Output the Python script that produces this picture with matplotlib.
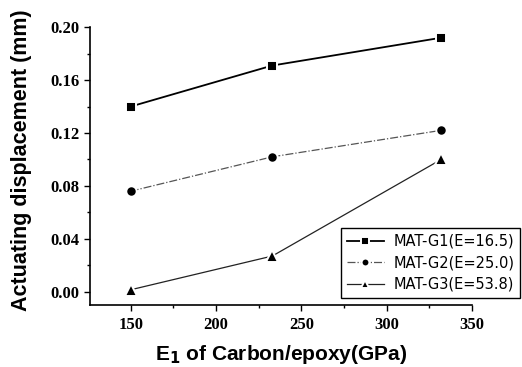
import numpy as np
import matplotlib
matplotlib.use('Agg')
import matplotlib.pyplot as plt
from matplotlib.ticker import MultipleLocator

# E1 of carbon/epoxy (GPa) and actuating displacement (mm)
e1 = [150, 233, 332]
g1 = [0.140, 0.171, 0.192]
g2 = [0.076, 0.102, 0.122]
g3 = [0.0015, 0.027, 0.100]
labels = ['MAT-G1(E=16.5)', 'MAT-G2(E=25.0)', 'MAT-G3(E=53.8)']

fig = plt.figure(figsize=(5.22, 3.67), dpi=100)
ax = fig.add_axes([0.172, 0.169, 0.732, 0.757])

# white marker edges give the small gap between line and marker
ax.plot(e1, g1, color='black', lw=1.3, marker='s', ms=7, mfc='black',
        mec='white', mew=1.4, label=labels[0])
ax.plot(e1, g2, color='#555555', lw=0.9, ls='-.', marker='o', ms=7.5,
        mfc='black', mec='white', mew=1.4, label=labels[1])
ax.plot(e1, g3, color='#222222', lw=0.9, marker='^', ms=8.5,
        mfc='black', mec='white', mew=1.4, label=labels[2])

ax.set_xlim(126, 350)
ax.set_ylim(-0.01, 0.20)
ax.set_xticks([150, 200, 250, 300, 350])
ax.set_yticks([0.00, 0.04, 0.08, 0.12, 0.16, 0.20])
ax.set_yticklabels(['0.00', '0.04', '0.08', '0.12', '0.16', '0.20'])
ax.xaxis.set_minor_locator(MultipleLocator(25))
ax.yaxis.set_minor_locator(MultipleLocator(0.02))
ax.tick_params(which='both', direction='out', width=1)
ax.tick_params(which='major', length=4)
ax.tick_params(which='minor', length=2)
ax.tick_params(axis='x', pad=5)
for lab in ax.get_xticklabels() + ax.get_yticklabels():
    lab.set_family('Liberation Serif')
    lab.set_weight('bold')
    lab.set_fontsize(12)

ax.spines['top'].set_visible(False)
ax.spines['right'].set_visible(False)
ax.spines['left'].set_bounds(-0.01, 0.20)
ax.spines['left'].set_linewidth(1.2)
ax.spines['bottom'].set_linewidth(1.2)

ax.set_xlabel('E$_\\mathbf{1}$ of Carbon/epoxy(GPa)', family='Liberation Sans',
              weight='bold', fontsize=15)
ax.set_ylabel('Actuating displacement (mm)', family='Liberation Sans',
              weight='bold', fontsize=15.5)
ax.xaxis.set_label_coords(0.5, -0.137)
ax.yaxis.set_label_coords(-0.152, 0.52)

leg = fig.legend(loc='lower right', bbox_to_anchor=(0.999, 0.185), fancybox=False,
                 edgecolor='black', framealpha=1, handlelength=2.6,
                 markerscale=0.75,
                 prop={'family': 'DejaVu Sans', 'size': 10.5},
                 borderpad=0.4, labelspacing=0.45, handletextpad=0.6,
                 borderaxespad=0.1)
leg.get_frame().set_linewidth(1.0)

fig.savefig('out.png', dpi=100)
